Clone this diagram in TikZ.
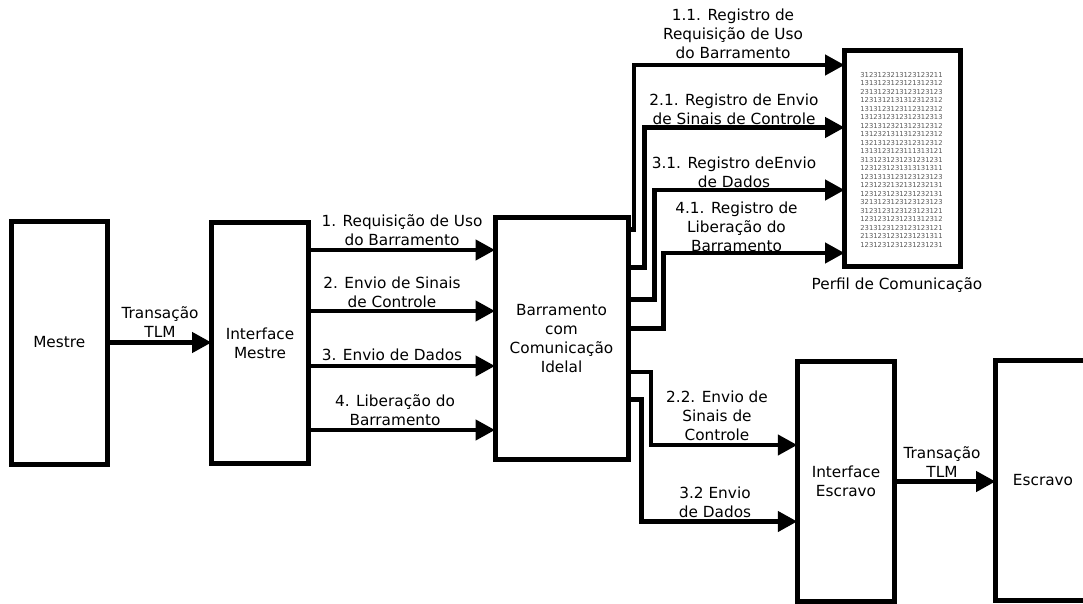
\documentclass[tikz,border=0pt]{standalone}
\usepackage{fontspec}
\setmainfont{DejaVu Sans}
\usetikzlibrary{arrows.meta}
\newcommand{\mainfnt}{\fontsize{15.3}{19}\selectfont}
\newcommand{\logfnt}{\fontsize{6.8}{8.5}\selectfont}
\begin{document}
\begin{tikzpicture}[x=1pt,y=-1pt,
  box/.style={draw, line width=5pt, fill=white, outer sep=0pt, inner sep=0pt,
    align=center, font=\mainfnt},
  conn/.style={line width=4.5pt, line join=miter,
    -{Triangle[length=19.5pt,width=20pt]}},
  lbl/.style={align=center, inner sep=0pt, font=\mainfnt}]
\useasboundingbox (0,0) rectangle (1083,604);

% blocks
\node[box, minimum width=96.5pt, minimum height=243pt] (mestre) at (59.25,342.5) {Mestre};
\node[box, minimum width=97pt, minimum height=241.5pt] (im) at (260,343) {Interface\\Mestre};
\node[box, minimum width=133pt, minimum height=242pt] (bus) at (561.5,338.5)
  {Barramento\\com\\Comunicação\\Idelal};
\node[box, minimum width=116pt, minimum height=216pt] (perfil) at (902.5,158.5) {};
\node[box, minimum width=97.5pt, minimum height=240pt] (ie) at (846,481) {Interface\\Escravo};
\node[box, minimum width=95pt, minimum height=240pt] (esc) at (1043,480.5) {Escravo};

% communication log inside the profile
\node[font=\logfnt, text=black!65, align=center, inner sep=0pt] (log) at (901.5,160) {%
3123123213123123211\\1313123123121312312\\2313123213123123123\\%
1231312131312312312\\1313123123112312312\\1312312312312312313\\%
1231312321312312312\\1312321311312312312\\1321312312312312312\\%
1313123123111313121\\3131231231231231231\\1231231231313131311\\%
1231313123123123123\\1231232132131232131\\1231231231231232131\\%
3213123123123123123\\3123123123123123121\\1231231231231312312\\%
2313123123123123121\\2131231231231231311\\1231231231231231231};

% master side
\draw[conn] (mestre.east) -- (im.west |- mestre.east);
\draw[conn] (im.east |- 0,250) -- (bus.west |- 0,250);
\draw[conn] (im.east |- 0,311) -- (bus.west |- 0,311);
\draw[conn] (im.east |- 0,366) -- (bus.west |- 0,366);
\draw[conn] (im.east |- 0,430) -- (bus.west |- 0,430);

% bus to profile
\draw[conn] (bus.east |- 0,229.5) -| (634,65) -- (perfil.west |- 0,65);
\draw[conn] (bus.east |- 0,267.5) -| (644.5,127.5) -- (perfil.west |- 0,127.5);
\draw[conn] (bus.east |- 0,299.5) -| (654.5,190) -- (perfil.west |- 0,190);
\draw[conn] (bus.east |- 0,328.5) -| (663.5,253) -- (perfil.west |- 0,253);

% bus to slave side
\draw[conn] (bus.east |- 0,372) -| (651,445) -- (ie.west |- 0,445);
\draw[conn] (bus.east |- 0,399.5) -| (641.5,521.5) -- (ie.west |- 0,521.5);
\draw[conn] (ie.east |- 0,481.5) -- (esc.west |- 0,481.5);

% labels
\node[lbl] (ltlm1) at (160,322) {Transação\\TLM};
\node[lbl] (l1) at (402,230.5) {1. Requisição de Uso\\do Barramento};
\node[lbl] (l2) at (392,292.5) {2. Envio de Sinais\\de Controle};
\node[lbl] (l3) at (392,355) {3. Envio de Dados};
\node[lbl] (l4) at (395,410.5) {4. Liberação do\\Barramento};
\node[lbl] (l11) at (733,34) {1.1. Registro de\\Requisição de Uso\\do Barramento};
\node[lbl] (l21) at (734,109) {2.1. Registro de Envio\\de Sinais de Controle};
\node[lbl] (l31) at (734,172.5) {3.1. Registro deEnvio\\de Dados};
\node[lbl] (l41) at (736.5,227) {4.1. Registro de\\Liberação do\\Barramento};
\node[lbl] (lperfil) at (897,285) {Perfil de Comunicação};
\node[lbl] (l22) at (717,416) {2.2. Envio de\\Sinais de\\Controle};
\node[lbl] (l32) at (715,502.5) {3.2 Envio\\de Dados};
\node[lbl] (ltlm2) at (942,462.5) {Transação\\TLM};
\end{tikzpicture}
\end{document}
